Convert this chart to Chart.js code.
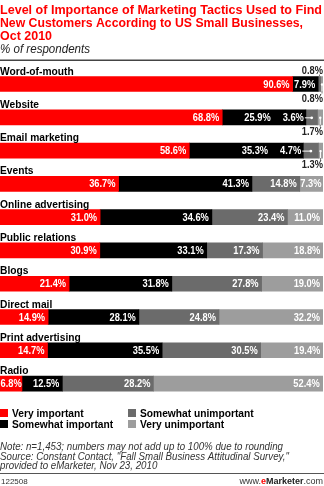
<!DOCTYPE html>
<html>
<head>
<meta charset="utf-8">
<script src="https://cdn.jsdelivr.net/npm/chart.js@4.4.1/dist/chart.umd.min.js"></script>
<style>
body{margin:0;background:#fff;}
canvas{display:block;}
</style>
</head>
<body>
<canvas id="tactics" width="324" height="486"></canvas>
<script>
const categories = ['Word-of-mouth', 'Website', 'Email marketing', 'Events', 'Online advertising',
  'Public relations', 'Blogs', 'Direct mail', 'Print advertising', 'Radio'];
const seriesNames = ['Very important', 'Somewhat important', 'Somewhat unimportant', 'Very unimportant'];
const veryImportant = [90.6, 68.8, 58.6, 36.7, 31.0, 30.9, 21.4, 14.9, 14.7, 6.8];
const somewhatImportant = [7.9, 25.9, 35.3, 41.3, 34.6, 33.1, 31.8, 28.1, 35.5, 12.5];
const somewhatUnimportant = [0.8, 3.6, 4.7, 14.8, 23.4, 17.3, 27.8, 24.8, 30.5, 28.2];
const veryUnimportant = [0.8, 1.7, 1.3, 7.3, 11.0, 18.8, 19.0, 32.2, 19.4, 52.4];

const series = [veryImportant, somewhatImportant, somewhatUnimportant, veryUnimportant];
const colors = ['#ff0000', '#000000', '#6b6b6b', '#9d9d9d'];
const FONT = '"Liberation Sans", Arial, sans-serif';

/* text helpers (squeezed horizontally like the original artwork) */

function drawText(ctx, s, x, y, o){
ctx.save();
ctx.font = o.font;
ctx.fillStyle = o.color || '#000';
ctx.textAlign = o.align || 'left';
ctx.textBaseline = 'alphabetic';
let sx = o.sx || 1;
if(o.fit) sx = o.fit / ctx.measureText(s).width;
ctx.translate(x, y);
ctx.scale(sx, 1);
ctx.fillText(s, 0, 0);
ctx.restore();
}

function textWidth(ctx, s, font, sx){
ctx.save();
ctx.font = font;
let w = ctx.measureText(s).width * sx;
ctx.restore();
return w;
}

const labelsPlugin = {
id: 'tacticLabels',
afterDraw(chart){

const ctx = chart.ctx;

/* title + subtitle */
const titleFont = 'bold 13px ' + FONT;
drawText(ctx, 'Level of Importance of Marketing Tactics Used to Find', 0, 13.5, {font: titleFont, color: '#ff0000', fit: 322});
drawText(ctx, 'New Customers According to US Small Businesses,', 0, 27, {font: titleFont, color: '#ff0000', fit: 303});
drawText(ctx, 'Oct 2010', 0, 40, {font: titleFont, color: '#ff0000', fit: 52});
drawText(ctx, '% of respondents', 0, 53, {font: 'italic 12px ' + FONT, color: '#222', fit: 90});

ctx.fillStyle = '#444';
ctx.fillRect(0, 59.5, 324, 1.5);

/* category names and value labels */
const metas = series.map((s, i) => chart.getDatasetMeta(i));
const valFont = 'bold 10px ' + FONT;
const vsx = 0.93;

categories.forEach((cat, j) => {

const segs = metas.map(m => m.data[j].getProps(['x', 'y', 'base', 'height'], true));
const top = segs[0].y - segs[0].height / 2;
const bottom = segs[0].y + segs[0].height / 2;
const mid = segs[0].y;

drawText(ctx, cat, 0, top - 2, {font: 'bold 11px ' + FONT, sx: 0.93});

let place = [];

series.forEach((arr, d) => {

let s = segs[d];
let left = Math.min(s.base, s.x), right = Math.max(s.base, s.x);
let w = right - left;
let txt = arr[j].toFixed(1) + '%';
let tw = textWidth(ctx, txt, valFont, vsx);
let cx = (left + right) / 2;

if(w >= tw + 0.5){
let pad = Math.min(3, Math.max(0.3, w - tw - 0.5));
place[d] = {txt, x: right - pad, y: mid + 3.6, color: '#fff'};
}else if(d === 3){
place[d] = {txt, x: 323, y: bottom + 10, color: '#222', below: true, cx};
}else if(w < 6){
place[d] = {txt, x: 323, y: top - 3, color: '#222', above: true, cx};
}else{
place[d] = {txt, x: left - 2, y: mid + 3.6, color: '#fff', leader: true, cx, from: left - 1};
if(place[d - 1]) place[d - 1].x = left - 2 - tw - 12;
}

});

place.forEach(p => {

if(p.leader){
ctx.strokeStyle = '#fff';
ctx.lineWidth = 1;
ctx.beginPath();
ctx.moveTo(p.from, mid + 0.5);
ctx.lineTo(p.cx, mid + 0.5);
ctx.stroke();
ctx.fillStyle = '#fff';
ctx.beginPath();
ctx.arc(p.cx, mid + 0.5, 1.4, 0, Math.PI * 2);
ctx.fill();
}

if(p.below){
ctx.fillStyle = '#fff';
ctx.beginPath();
ctx.arc(p.cx, mid + 0.5, 1.2, 0, Math.PI * 2);
ctx.fill();
ctx.strokeStyle = '#fff';
ctx.lineWidth = 1;
ctx.beginPath();
ctx.moveTo(p.cx, mid);
ctx.lineTo(p.cx, bottom);
ctx.stroke();
ctx.strokeStyle = '#777';
ctx.beginPath();
ctx.moveTo(p.cx, bottom);
ctx.lineTo(p.cx, p.y - 8);
ctx.stroke();
}

if(p.above){
ctx.strokeStyle = '#777';
ctx.lineWidth = 1;
ctx.beginPath();
ctx.moveTo(p.cx, p.y + 1);
ctx.lineTo(p.cx, top);
ctx.stroke();
}

drawText(ctx, p.txt, p.x, p.y, {font: valFont, color: p.color, align: 'right', sx: vsx});

});

});

/* legend */
const legFont = 'bold 11px ' + FONT;
const legPos = [[0, 409], [0, 420], [128, 409], [128, 420]];
seriesNames.forEach((name, i) => {
let [lx, ly] = legPos[i];
ctx.fillStyle = colors[i];
ctx.fillRect(lx, ly, 8, 8);
drawText(ctx, name, lx + 12, ly + 8, {font: legFont, sx: 0.93});
});

/* notes */
const noteFont = 'italic 10px ' + FONT;
const nsx = 283 / textWidth(ctx, 'Note: n=1,453; numbers may not add up to 100% due to rounding', noteFont, 1);
drawText(ctx, 'Note: n=1,453; numbers may not add up to 100% due to rounding', 0, 450, {font: noteFont, color: '#333', sx: nsx});
drawText(ctx, 'Source: Constant Contact, "Fall Small Business Attitudinal Survey,"', 0, 459.5, {font: noteFont, color: '#333', sx: nsx});
drawText(ctx, 'provided to eMarketer, Nov 23, 2010', 0, 469, {font: noteFont, color: '#333', sx: nsx});

/* footer */
ctx.fillStyle = '#555';
ctx.fillRect(0, 473, 324, 1);
drawText(ctx, '122508', 1, 484, {font: '8px ' + FONT, color: '#333'});

const parts = [['www.', 'normal', '#333'], ['e', 'bold', '#ff0000'], ['Marketer', 'bold', '#222'], ['.com', 'normal', '#333']];
let total = 0;
parts.forEach(p => total += textWidth(ctx, p[0], p[1] + ' 9px ' + FONT, 1));
let fx = 323 - total;
parts.forEach(p => {
let f = p[1] + ' 9px ' + FONT;
drawText(ctx, p[0], fx, 484, {font: f, color: p[2]});
fx += textWidth(ctx, p[0], f, 1);
});

}
};

new Chart(document.getElementById('tactics'), {
type: 'bar',
data: {
labels: categories,
datasets: series.map((arr, i) => ({
label: seriesNames[i],
data: arr,
backgroundColor: colors[i],
borderWidth: 0,
barThickness: 15
}))
},
options: {
indexAxis: 'y',
responsive: false,
animation: false,
devicePixelRatio: 1,
layout: {padding: {top: 67.4, bottom: 85.8, left: 0, right: 1}},
scales: {
x: {stacked: true, min: 0, max: 100, display: false},
y: {stacked: true, display: false}
},
plugins: {
legend: {display: false},
tooltip: {enabled: false}
}
},
plugins: [labelsPlugin]
});
</script>
</body>
</html>
